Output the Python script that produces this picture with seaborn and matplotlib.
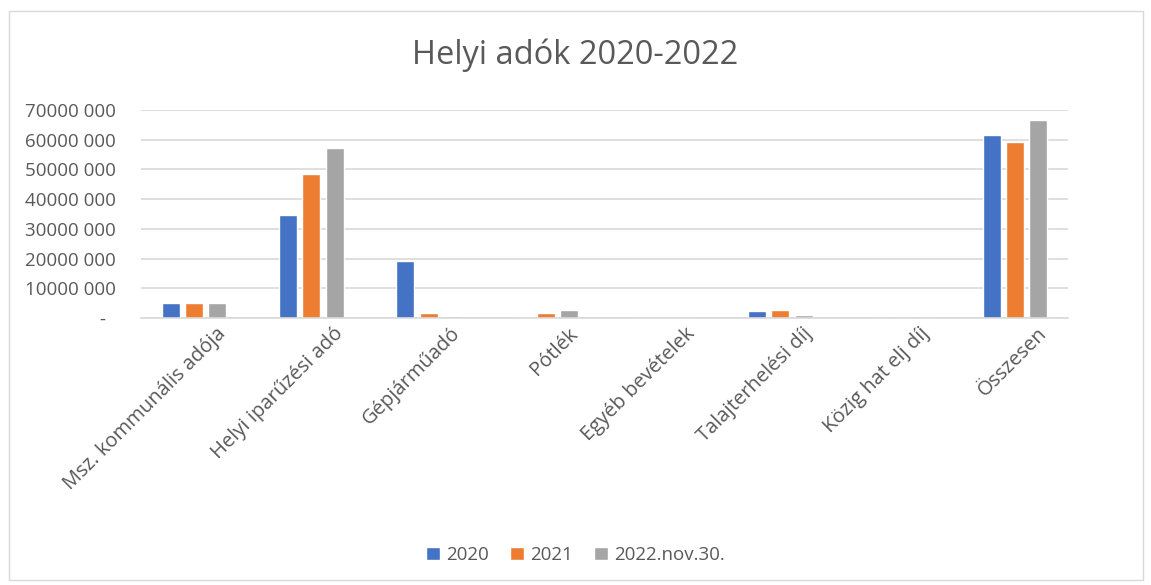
import matplotlib
matplotlib.use("Agg")
import matplotlib.pyplot as plt
import matplotlib.transforms as mtransforms
import seaborn as sns
import pandas as pd
from matplotlib.ticker import FuncFormatter
from matplotlib.patches import Rectangle

categories = ["Msz. kommunális adója", "Helyi iparűzési adó", "Gépjárműadó", "Pótlék",
              "Egyéb bevételek", "Talajterhelési díj", "Közig hat elj díj", "Összesen"]
series_names = ["2020", "2021", "2022.nov.30."]
v2020 = [5000000, 34700000, 19100000, 300000, 0, 2500000, 0, 61600000]
v2021 = [4900000, 48500000, 1800000, 1600000, 0, 2600000, 0, 59300000]
v2022 = [4900000, 57200000, 700000, 2800000, 0, 1100000, 0, 66600000]
colors = ["#4472C4", "#ED7D31", "#A5A5A5"]

rows = []
for name, vals in zip(series_names, [v2020, v2021, v2022]):
    for c, v in zip(categories, vals):
        rows.append({"cat": c, "series": name, "val": v})
df = pd.DataFrame(rows)

sns.set_theme(style="white")
plt.rcParams["font.family"] = ["Open Sans", "DejaVu Sans"]
text_color = "#595959"

fig = plt.figure(figsize=(11.51, 5.85), dpi=100)
ax = fig.add_axes([141/1151, 1-318/585, (1068-141)/1151, (318-110)/585])
sns.barplot(data=df, x="cat", y="val", hue="series", palette=colors, ax=ax,
            width=0.6, gap=0.23, saturation=1, order=categories, hue_order=series_names)
ax.set_ylim(0, 70000000)
ax.set_xlim(-0.452, len(categories)-1+0.452)
ax.set_yticks(range(0, 70000001, 10000000))

def fmt(v, pos):
    if v == 0:
        return "-  "
    v = int(round(v))
    return f"{v // 1000:d} {v % 1000:03d}"
ax.yaxis.set_major_formatter(FuncFormatter(fmt))
ax.grid(axis="y", color="#D9D9D9", linewidth=1.2)
ax.set_axisbelow(True)
for s in ["top", "right", "left"]:
    ax.spines[s].set_visible(False)
ax.spines["bottom"].set_color("#D9D9D9")
ax.spines["bottom"].set_linewidth(1.2)
ax.tick_params(axis="both", length=0, colors=text_color)
ax.tick_params(axis="y", pad=18, labelsize=13.5)
ax.tick_params(axis="x", pad=4, labelsize=14.5)
ax.set_xlabel("")
ax.set_ylabel("")
offset = mtransforms.ScaledTranslation(22/100, 0, fig.dpi_scale_trans)
for lab in ax.get_xticklabels():
    lab.set_rotation(45)
    lab.set_ha("right")
    lab.set_rotation_mode("anchor")
    lab.set_color(text_color)
    lab.set_transform(lab.get_transform() + offset)

fig.text(0.5, 1-55/585, "Helyi adók 2020-2022", ha="center", va="center", fontsize=23.5, color=text_color)
leg = ax.legend(loc="center", bbox_to_anchor=(0.5, (585-555)/585), bbox_transform=fig.transFigure,
                ncol=3, frameon=False, fontsize=13.5, handlelength=0.75, handleheight=0.75,
                columnspacing=1.1, handletextpad=0.35)
for t in leg.get_texts():
    t.set_color(text_color)

fig.patches.append(Rectangle((9/1151, 5/585), 1134/1151, 569/585, transform=fig.transFigure,
                             fill=False, edgecolor="#D9D9D9", linewidth=1))
fig.savefig("out.png", dpi=100)
